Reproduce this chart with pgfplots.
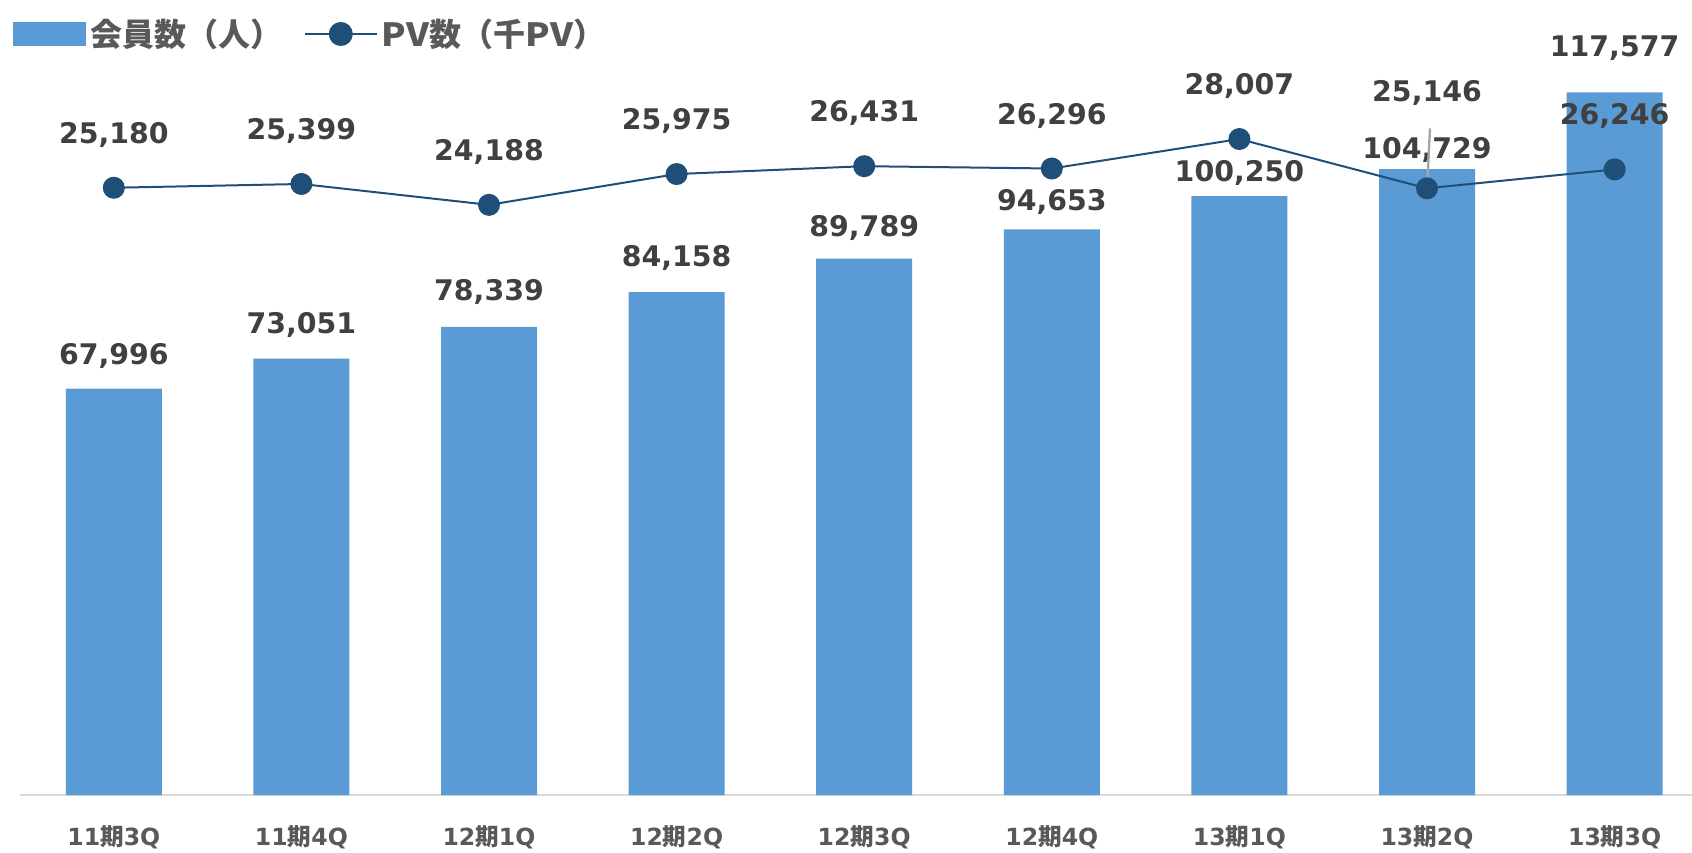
\documentclass[border=0pt]{standalone}
\usepackage{pgfplots}
\pgfplotsset{compat=1.18}
\usepackage{pgfplotstable}
\usepackage{fontspec}
\newfontfamily\numfont{DejaVu Sans}
\newfontfamily\jpfont{Noto Sans CJK JP}
\newfontfamily\pvfont{Noto Sans CJK JP}[FakeStretch=1.12]
\definecolor{barblue}{HTML}{5B9BD5}
\definecolor{linblue}{HTML}{1F4E79}
\definecolor{lbl}{HTML}{404040}
\definecolor{tickc}{HTML}{595959}
\definecolor{axisgray}{HTML}{D9D9D9}
\definecolor{leader}{HTML}{A6A6A6}
\pgfplotstableread{
x members pv
0 67996 25180
1 73051 25399
2 78339 24188
3 84158 25975
4 89789 26431
5 94653 26296
6 100250 28007
7 104729 25146
8 117577 26246
}\data
\newcommand{\lblfont}{\numfont\bfseries\fontsize{14.2}{16}\selectfont\color{lbl}}
\newcommand{\tl}[2]{#1{\jpfont\bfseries 期}#2}
\newcommand{\PV}{{\pvfont\bfseries PV}}
\begin{document}
\begin{tikzpicture}
\begin{axis}[
  name=ax,
  scale only axis,
  width=844.2pt, height=358.5pt,
  xmin=-0.5, xmax=8.5,
  ymin=0, ymax=120000,
  axis x line*=bottom,
  axis y line=none,
  x axis line style={draw=axisgray, line width=1.3pt, -},
  xtick={0,...,8},
  xticklabels={\tl{11}{3Q},\tl{11}{4Q},\tl{12}{1Q},\tl{12}{2Q},\tl{12}{3Q},\tl{12}{4Q},\tl{13}{1Q},\tl{13}{2Q},\tl{13}{3Q}},
  xtick style={draw=none},
  xticklabel style={font=\numfont\bfseries\fontsize{11.8}{13}\selectfont, text=tickc, anchor=base, yshift=-25pt},
  ytick=\empty,
  clip=false,
  legend style={at={(0,1)}, anchor=west, xshift=-3.7pt, yshift=22pt, draw=none, fill=none,
    inner sep=0pt, legend columns=2,
    font=\jpfont\bfseries\fontsize{16}{18}\selectfont, text=tickc,
    /tikz/every even column/.append style={column sep=8.7pt}},
]
\addplot[ybar, bar width=48pt, fill=barblue, draw=none,
  legend image code/.code={\fill[barblue] (0pt,-6pt) rectangle (36.7pt,6pt);}]
  table[x=x, y=members] {\data};
\addlegendentry{会員数（人）}
\addlegendimage{linblue, line width=1pt, mark=*, mark size=5.5pt, mark options={fill=linblue},
  legend image code/.code={\draw[mark repeat=2,mark phase=2,linblue, line width=1pt, mark=*, mark size=5.5pt] plot coordinates {(0pt,0pt) (18pt,0pt) (36pt,0pt)};}}
\addlegendentry{\PV 数（千\PV ）}
\node[font=\lblfont] at (axis cs:0,67996) [yshift=16.2pt] {67,996};
\node[font=\lblfont] at (axis cs:1,73051) [yshift=16.8pt] {73,051};
\node[font=\lblfont] at (axis cs:2,78339) [yshift=17.3pt] {78,339};
\node[font=\lblfont] at (axis cs:3,84158) [yshift=17.3pt] {84,158};
\node[font=\lblfont] at (axis cs:4,89789) [yshift=15.3pt] {89,789};
\node[font=\lblfont] at (axis cs:5,94653) [yshift=13.6pt] {94,653};
\node[font=\lblfont] at (axis cs:6,100250) [yshift=11.3pt] {100,250};
\node[font=\lblfont] at (axis cs:7,104729) [yshift=9.8pt] {104,729};
\node[font=\lblfont] at (axis cs:8,117577) [yshift=22.2pt] {117,577};
\end{axis}
\begin{axis}[
  scale only axis,
  width=844.2pt, height=358.5pt,
  xmin=-0.5, xmax=8.5,
  ymin=-10063, ymax=31550,
  hide axis,
  clip=false,
]
\draw[leader, line width=1.2pt] (axis cs:7,25146) -- ++(1.5pt,30pt);
\addplot[linblue, line width=1pt, mark=*, mark size=5pt, mark options={fill=linblue}]
  table[x=x, y=pv] {\data};
\node[font=\lblfont] at (axis cs:0,25180) [yshift=26.5pt] {25,180};
\node[font=\lblfont] at (axis cs:1,25399) [yshift=26.5pt] {25,399};
\node[font=\lblfont] at (axis cs:2,24188) [yshift=26.5pt] {24,188};
\node[font=\lblfont] at (axis cs:3,25975) [yshift=26.5pt] {25,975};
\node[font=\lblfont] at (axis cs:4,26431) [yshift=26.5pt] {26,431};
\node[font=\lblfont] at (axis cs:5,26296) [yshift=26.5pt] {26,296};
\node[font=\lblfont] at (axis cs:6,28007) [yshift=26.5pt] {28,007};
\node[font=\lblfont] at (axis cs:7,25146) [yshift=47.5pt] {25,146};
\node[font=\lblfont] at (axis cs:8,26246) [yshift=26.5pt] {26,246};
\end{axis}
\pgfresetboundingbox
\path[use as bounding box] ([shift={(-10pt,-28.5pt)}]ax.south west) rectangle ([shift={(-8.2pt,39pt)}]ax.north east);
\end{tikzpicture}
\end{document}
